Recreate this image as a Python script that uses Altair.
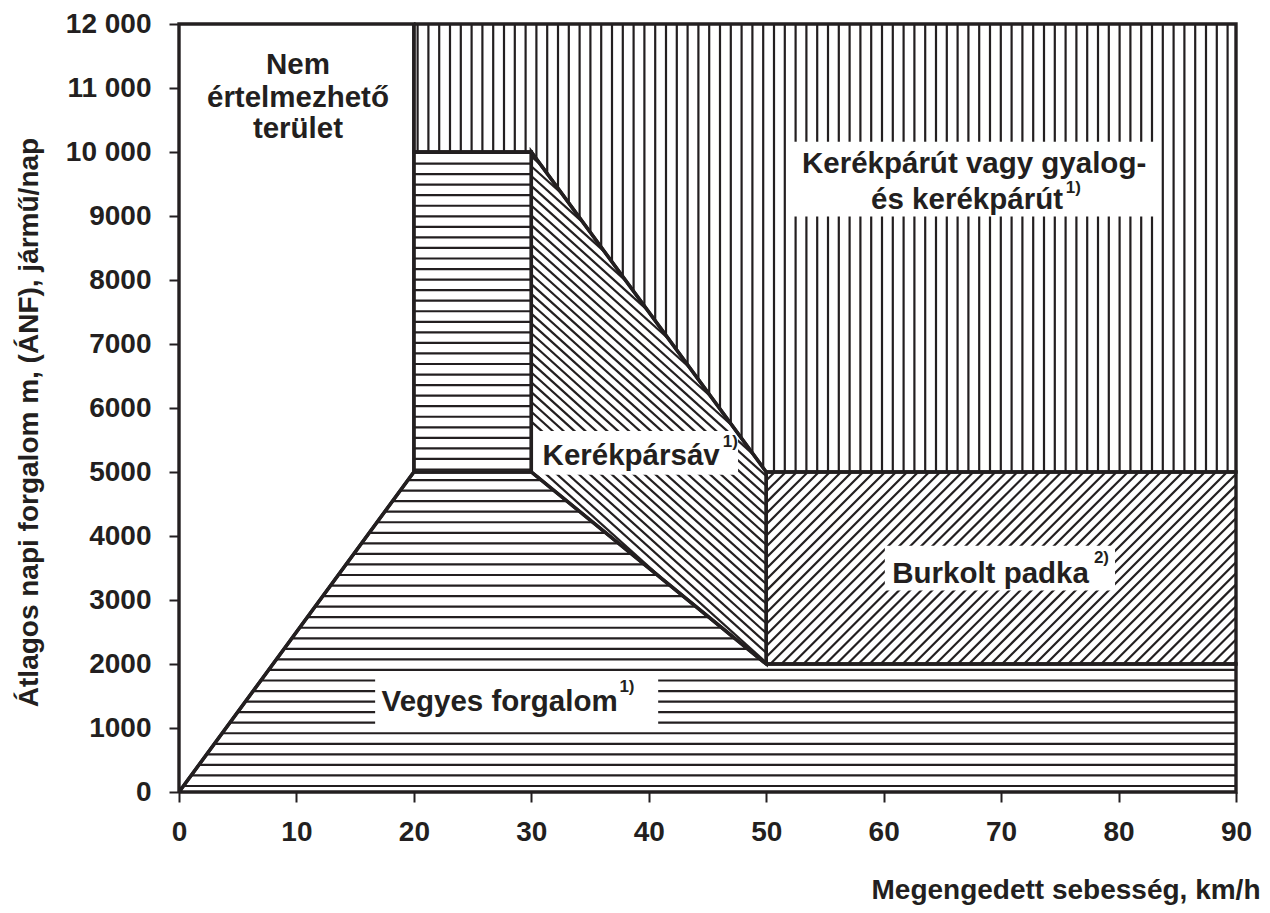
import math
import altair as alt
import pandas as pd

# ---------------- data ----------------
X_MAX = 90
Y_MAX = 12000
x_ticks = [0, 10, 20, 30, 40, 50, 60, 70, 80, 90]
y_ticks = [0, 1000, 2000, 3000, 4000, 5000, 6000, 7000, 8000, 9000, 10000, 11000, 12000]

# region polygons (km/h, vehicles/day)
vegyes_low_x = [0, 20, 30, 50, 90, 90]
vegyes_low_y = [0, 5000, 5000, 2000, 2000, 0]
vegyes_high_x = [20, 20, 30, 30]
vegyes_high_y = [5000, 10000, 10000, 5000]
sav_x = [30, 30, 50, 50]
sav_y = [5000, 10000, 5000, 2000]
padka_x = [50, 50, 90, 90]
padka_y = [2000, 5000, 5000, 2000]
ut_x = [20, 20, 30, 50, 90, 90]
ut_y = [12000, 10000, 10000, 5000, 5000, 12000]
nem_x = [0, 0, 20, 20]
nem_y = [0, 12000, 12000, 5000]

# labels
label_text = ["Nem", "értelmezhető", "terület",
              "Kerékpárút vagy gyalog-", "és kerékpárút",
              "Kerékpársáv", "Burkolt padka", "Vegyes forgalom"]
label_x = [10.13, 10.13, 10.13, 67.7, 67.1, 38.5, 69.1, 27.3]
label_y = [11361, 10847, 10364, 9818, 9257, 5252, 3413, 1403]

sup_text = ["1)", "1)", "2)", "1)"]
sup_x = [75.5, 46.3, 77.9, 37.5]
sup_y = [9430, 5470, 3660, 1640]

# white label boxes
box_x1 = [52.1, 30.0, 60.1, 16.7]
box_x2 = [83.2, 47.6, 79.7, 40.8]
box_y1 = [8992, 4956, 3148, 1029]
box_y2 = [10161, 5641, 3849, 1808]

# ---------------- layout ----------------
W, H = 1057, 768
SX = W / X_MAX
SY = H / Y_MAX
INK = "#231f20"
FONT = "Liberation Sans"


def hatch(xs, ys, angle, spacing, offset):
    """Clip a family of parallel lines (angle in screen degrees) to a polygon."""
    pts = [(x * SX, y * SY) for x, y in zip(xs, ys)]
    th = math.radians(angle)
    d = (math.cos(th), math.sin(th))
    n = (-math.sin(th), math.cos(th))
    cs = [n[0] * p[0] + n[1] * p[1] for p in pts]
    c = offset + math.ceil((min(cs) - offset) / spacing) * spacing
    segs = []
    m = len(pts)
    while c <= max(cs):
        hits = []
        for i in range(m):
            p0, p1 = pts[i], pts[(i + 1) % m]
            d0 = n[0] * p0[0] + n[1] * p0[1] - c
            d1 = n[0] * p1[0] + n[1] * p1[1] - c
            if (d0 > 0) != (d1 > 0):
                t = d0 / (d0 - d1)
                q = (p0[0] + t * (p1[0] - p0[0]), p0[1] + t * (p1[1] - p0[1]))
                hits.append((d[0] * q[0] + d[1] * q[1], q))
        hits.sort(key=lambda h: h[0])
        for k in range(0, len(hits) - 1, 2):
            a, b = hits[k][1], hits[k + 1][1]
            segs.append({"x": a[0] / SX, "y": a[1] / SY, "x2": b[0] / SX, "y2": b[1] / SY})
        c += spacing
    return segs


hatch_rows = []
hatch_rows += hatch(vegyes_low_x, vegyes_low_y, 0, 10.55, 6.0)
hatch_rows += hatch(vegyes_high_x, vegyes_high_y, 0, 10.55, 6.0)
hatch_rows += hatch(ut_x, ut_y, 90, 10.8, -1.0)
hatch_rows += hatch(padka_x, padka_y, 45, 7.8, 0.0)
hatch_rows += hatch(sav_x, sav_y, -42, 7.3, 0.0)
hatch_df = pd.DataFrame(hatch_rows)

outline_rows = []
for name, xs, ys in [("vegyes_low", vegyes_low_x, vegyes_low_y),
                     ("vegyes_high", vegyes_high_x, vegyes_high_y),
                     ("sav", sav_x, sav_y), ("padka", padka_x, padka_y),
                     ("ut", ut_x, ut_y), ("nem", nem_x, nem_y)]:
    for i, (x, y) in enumerate(list(zip(xs, ys)) + [(xs[0], ys[0])]):
        outline_rows.append({"poly": name, "i": i, "x": x, "y": y})
outline_df = pd.DataFrame(outline_rows)

label_df = pd.DataFrame({"text": label_text, "x": label_x, "y": label_y})
sup_df = pd.DataFrame({"text": sup_text, "x": sup_x, "y": sup_y})
box_df = pd.DataFrame({"x": box_x1, "x2": box_x2, "y": box_y1, "y2": box_y2})

xscale = alt.Scale(domain=[0, X_MAX], nice=False, zero=True)
yscale = alt.Scale(domain=[0, Y_MAX], nice=False, zero=True)

x_axis = alt.Axis(values=x_ticks, title="Megengedett sebesség, km/h", grid=False,
                  domain=False, tickSize=10, tickWidth=2, tickColor=INK,
                  labelFont=FONT, labelFontWeight="bold", labelFontSize=28,
                  labelColor=INK, labelPadding=16, labelFlush=False,
                  titleFont=FONT, titleFontWeight="bold", titleFontSize=28,
                  titleColor=INK, titleAnchor="end", titleAlign="right",
                  titleX=1081, titleY=98, titleBaseline="middle")
y_axis = alt.Axis(values=y_ticks, title="Átlagos napi forgalom m,  (ÁNF), jármű/nap",
                  grid=False, domain=False, tickSize=10, tickWidth=2, tickColor=INK,
                  labelFont=FONT, labelFontWeight="bold", labelFontSize=28,
                  labelColor=INK, labelPadding=18, labelFlush=False,
                  labelExpr="datum.value >= 10000 ? replace(format(datum.value, ','), ',', ' ') : format(datum.value, 'd')",
                  titleFont=FONT, titleFontWeight="bold", titleFontSize=28,
                  titleColor=INK, titleAngle=270, titleX=-142, titleY=398,
                  titleAlign="center", titleBaseline="alphabetic")

hatch_layer = alt.Chart(hatch_df).mark_rule(color=INK, strokeWidth=2.2).encode(
    x=alt.X("x:Q", scale=xscale, axis=x_axis),
    y=alt.Y("y:Q", scale=yscale, axis=y_axis),
    x2="x2:Q", y2="y2:Q")

box_layer = alt.Chart(box_df).mark_rect(color="white").encode(
    x="x:Q", x2="x2:Q", y="y:Q", y2="y2:Q")

outline_layer = alt.Chart(outline_df).mark_line(
    color=INK, strokeWidth=3.4, strokeJoin="miter").encode(
    x="x:Q", y="y:Q", detail="poly:N", order="i:Q")

label_layer = alt.Chart(label_df).mark_text(
    font=FONT, fontWeight="bold", fontSize=29.5, color=INK,
    align="center", baseline="middle").encode(
    x="x:Q", y="y:Q", text="text:N")

sup_layer = alt.Chart(sup_df).mark_text(
    font=FONT, fontWeight="bold", fontSize=17, color=INK,
    align="left", baseline="middle").encode(
    x="x:Q", y="y:Q", text="text:N")

chart = alt.layer(hatch_layer, box_layer, outline_layer, label_layer, sup_layer).properties(
    width=W, height=H,
    autosize=alt.AutoSizeParams(type="none"),
    padding={"left": 171, "top": 16, "right": 26, "bottom": 118},
).configure_view(stroke=INK, strokeWidth=3.4).configure(background="white")

chart.save("out.html", embed_options={"renderer": "svg", "actions": False})
